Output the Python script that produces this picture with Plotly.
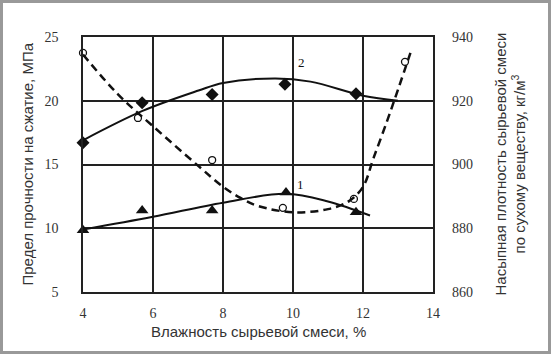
import plotly.graph_objects as go

# Series 1: compressive strength (triangles), MPa
s1_x = [4.0, 5.69, 7.69, 9.8, 11.8]
s1_y = [9.85, 11.4, 11.4, 12.8, 11.25]
t1_x = [4.0, 6.0, 8.0, 9.8, 11.0, 12.2]
t1_y = [9.9, 10.9, 12.0, 12.7, 12.1, 11.0]

# Series 2: compressive strength (diamonds), MPa
s2_x = [4.0, 5.69, 7.69, 9.77, 11.8]
s2_y = [16.7, 19.85, 20.5, 21.3, 20.55]
t2_x = [4.0, 5.7, 7.3, 8.0, 9.5, 10.5, 12.0, 13.0]
t2_y = [16.9, 19.2, 20.8, 21.4, 21.75, 21.5, 20.4, 20.0]

# Series 3: bulk density (open circles), kg/m3
s3_x = [4.0, 5.57, 7.69, 9.71, 11.74, 13.2]
s3_y = [935.0, 914.6, 901.4, 886.4, 889.2, 932.2]
t3_x = [4.0, 5.0, 6.0, 7.3, 8.0, 8.5, 9.0, 10.0, 11.0, 11.6, 12.0, 12.3, 12.7, 13.0, 13.4]
t3_y = [934.5, 922.0, 912.0, 899.5, 893.0, 889.5, 887.0, 885.0, 886.0, 888.5, 893.0, 902.0, 914.0, 923.5, 936.5]

x_ticks = [4, 6, 8, 10, 12, 14]
y_ticks = [5, 10, 15, 20, 25]
y2_ticks = [860, 880, 900, 920, 940]

fig = go.Figure()
fig.add_trace(go.Scatter(x=t1_x, y=t1_y, mode="lines", line=dict(color="#111", width=2, shape="spline"), showlegend=False))
fig.add_trace(go.Scatter(x=t2_x, y=t2_y, mode="lines", line=dict(color="#111", width=2, shape="spline"), showlegend=False))
fig.add_trace(go.Scatter(x=t3_x, y=t3_y, yaxis="y2", mode="lines",
                         line=dict(color="#111", width=2.5, shape="spline", dash="8px,5px"), showlegend=False))
fig.add_trace(go.Scatter(x=s1_x, y=s1_y, mode="markers", cliponaxis=False,
                         marker=dict(symbol="triangle-up", size=11, color="#111"), showlegend=False))
fig.add_trace(go.Scatter(x=s2_x, y=s2_y, mode="markers", cliponaxis=False,
                         marker=dict(symbol="diamond", size=10, color="#111"), showlegend=False))
fig.add_trace(go.Scatter(x=s3_x, y=s3_y, yaxis="y2", mode="markers", cliponaxis=False,
                         marker=dict(symbol="circle-open", size=7, color="#111", line=dict(width=1.3)), showlegend=False))

tickfont = dict(family="Liberation Serif, Times New Roman, serif", size=14, color="#333")
titlefont = dict(family="Liberation Sans, Arial, sans-serif", size=15, color="#333")

fig.update_layout(
    width=552, height=355,
    margin=dict(l=83, r=119, t=37, b=63),
    paper_bgcolor="white", plot_bgcolor="white",
    xaxis=dict(range=[4, 14], tickvals=x_ticks, showgrid=True, gridcolor="#222", gridwidth=1.5,
               showline=True, linecolor="#222", linewidth=1.5, mirror=True, zeroline=False,
               ticks="", tickfont=tickfont, ticklabelstandoff=7),
    yaxis=dict(range=[5, 25], tickvals=y_ticks, showgrid=True, gridcolor="#222", gridwidth=1.5,
               showline=True, linecolor="#222", linewidth=1.5, mirror=True, zeroline=False,
               ticks="", tickfont=tickfont, ticklabelstandoff=20),
    yaxis2=dict(range=[860, 940], tickvals=y2_ticks, overlaying="y", side="right", showgrid=False,
                zeroline=False, ticks="", tickfont=tickfont, ticklabelstandoff=18),
    annotations=[
        dict(text="Влажность сырьевой смеси, %", x=0.5, y=-0.115, xref="paper", yref="paper",
             xanchor="center", yanchor="top", showarrow=False, font=titlefont),
        dict(text="Предел прочности на сжатие, МПа", x=-0.16, y=0.5, xref="paper", yref="paper",
             xanchor="center", yanchor="middle", textangle=-90, showarrow=False, font=titlefont),
        dict(text="Насыпная плотность сырьевой смеси<br>по сухому веществу, кг/м<sup>3</sup>",
             x=1.22, y=0.5, xref="paper", yref="paper", xanchor="center", yanchor="middle",
             textangle=-90, showarrow=False, font=titlefont),
        dict(text="1", x=10.2, y=13.4, xref="x", yref="y", showarrow=False,
             font=dict(family="Liberation Serif, serif", size=13, color="#111")),
        dict(text="2", x=10.23, y=23.0, xref="x", yref="y", showarrow=False,
             font=dict(family="Liberation Serif, serif", size=13, color="#111")),
    ],
    shapes=[dict(type="rect", xref="paper", yref="paper",
                 x0=(1.5 - 83) / 350, x1=(549.5 - 83) / 350,
                 y0=(292 - 352.5) / 255, y1=(292 - 1.5) / 255,
                 line=dict(color="#999", width=3), layer="above")],
)

fig.write_html("out.html", config={"displayModeBar": False},
               post_script="document.body.style.margin='0';document.body.style.overflow='hidden';")
